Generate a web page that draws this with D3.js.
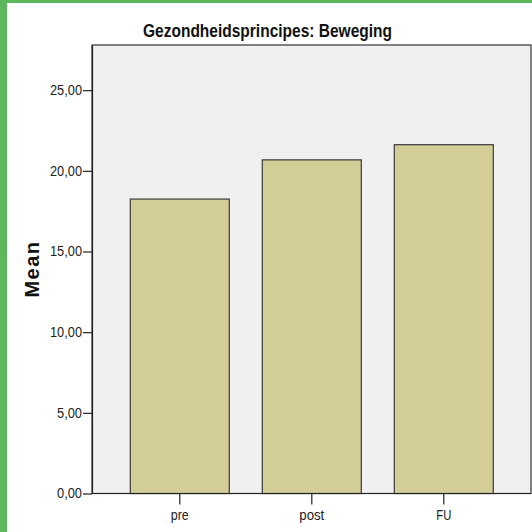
<!DOCTYPE html>
<html><head><meta charset="utf-8">
<script src="https://cdn.jsdelivr.net/npm/d3@7"></script>
<style>body{margin:0;padding:0;background:#fff;}svg{display:block;}</style>
</head><body>
<script>
const categories = ["pre", "post", "FU"];
const means = [18.25, 20.68, 21.62];
const yTicks = [0, 5, 10, 15, 20, 25];
const title = "Gezondheidsprincipes: Beweging";
const yLabel = "Mean";

const W = 532, H = 532;
const FONT = "'Liberation Sans', Arial, sans-serif";
const svg = d3.select("body").append("svg").attr("width", W).attr("height", H);
svg.append("rect").attr("width", W).attr("height", H).attr("fill", "#5cb85c");
svg.append("rect").attr("x", 7).attr("y", 3).attr("width", W - 7).attr("height", H - 3).attr("fill", "#ffffff");

const plot = {left: 92, top: 45, right: 531, bottom: 493.5};
const y = d3.scaleLinear().domain([0, 27.8]).range([plot.bottom, plot.top]);
const x = d3.scaleBand().domain(categories).range([113.8, 509.8]).paddingInner(0.25).paddingOuter(0.125);

svg.append("rect").attr("x", plot.left).attr("y", plot.top)
  .attr("width", plot.right - plot.left).attr("height", plot.bottom - plot.top)
  .attr("fill", "#f0f0f0").attr("stroke", "#333").attr("stroke-width", 1.2);

svg.selectAll("rect.bar").data(categories).enter().append("rect").attr("class", "bar")
  .attr("x", d => x(d)).attr("width", x.bandwidth())
  .attr("y", (d, i) => y(means[i])).attr("height", (d, i) => y(0) - y(means[i]))
  .attr("fill", "#d3ce97").attr("stroke", "#3a3a3a").attr("stroke-width", 1.2);

const fmt = d => d3.format(".2f")(d).replace(".", ",");
const yAxis = d3.axisLeft(y).tickValues(yTicks).tickSize(9).tickSizeOuter(0).tickPadding(1).tickFormat(fmt);
const gy = svg.append("g").attr("transform", `translate(${plot.left},0)`).call(yAxis);
gy.select(".domain").attr("stroke", "#222").attr("stroke-width", 1.2);
gy.selectAll(".tick line").attr("stroke", "#222").attr("stroke-width", 1.2);
gy.selectAll("text").attr("font-family", FONT).attr("font-size", 14).attr("fill", "#222")
  .attr("textLength", d => fmt(d).length === 5 ? 32 : 25).attr("lengthAdjust", "spacingAndGlyphs");

const xAxis = d3.axisBottom(x).tickSize(11).tickSizeOuter(0).tickPadding(6);
const gx = svg.append("g").attr("transform", `translate(0,${plot.bottom})`).call(xAxis);
gx.select(".domain").remove();
gx.selectAll(".tick line").attr("stroke", "#222").attr("stroke-width", 1.2);
gx.selectAll("text").attr("font-family", FONT).attr("font-size", 14).attr("fill", "#222")
  .attr("textLength", d => ({pre: 18, post: 25, FU: 15})[d]).attr("lengthAdjust", "spacingAndGlyphs");
svg.append("line").attr("x1", plot.left).attr("x2", plot.right).attr("y1", plot.bottom).attr("y2", plot.bottom)
  .attr("stroke", "#222").attr("stroke-width", 1.2);

svg.append("text").attr("x", 267.5).attr("y", 37).attr("text-anchor", "middle")
  .attr("font-family", FONT).attr("font-weight", "bold").attr("font-size", 18).attr("fill", "#111")
  .attr("textLength", 249).attr("lengthAdjust", "spacingAndGlyphs").text(title);

svg.append("text").attr("transform", "translate(38.5,269) rotate(-90)").attr("text-anchor", "middle")
  .attr("font-family", FONT).attr("font-weight", "bold")
  .attr("font-size", 20).attr("letter-spacing", "1.5px")
  .attr("fill", "#111").text(yLabel);
</script>
</body></html>
